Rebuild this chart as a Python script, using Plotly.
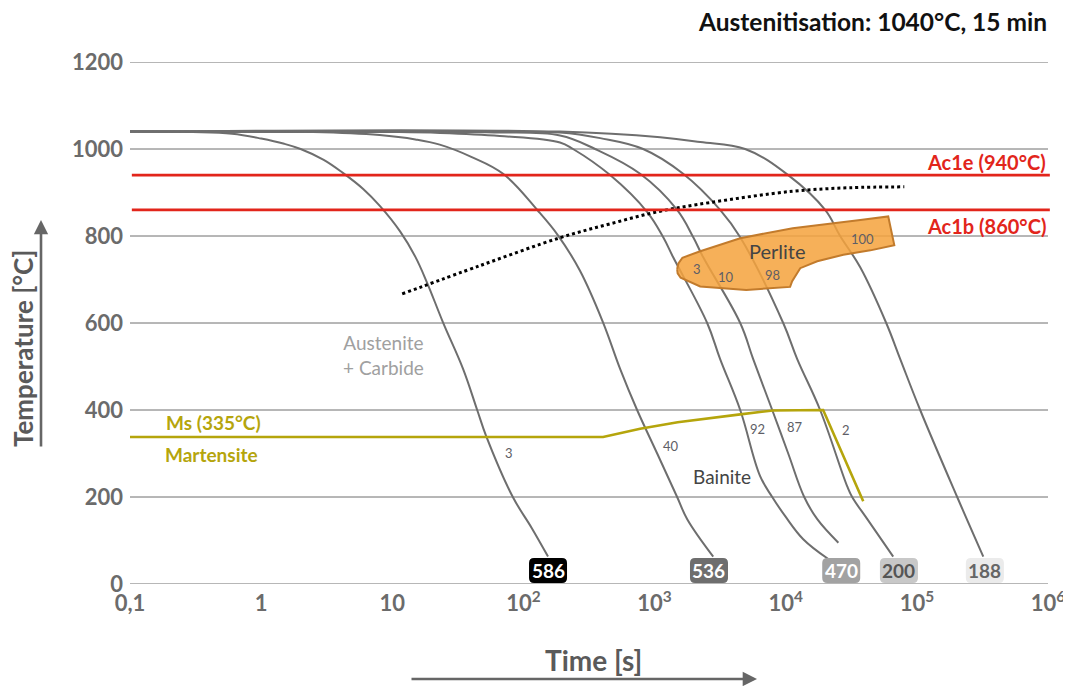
import numpy as np
import plotly.graph_objects as go

# ---------------- data ----------------
# cooling curves: time [s], temperature [°C]
curveA_t = [0.1, 0.3, 0.6, 1.0, 1.5, 2.0, 3.0, 4.2, 6.0, 8.1, 11.5, 15, 18.4, 24.4, 34.7, 44.4, 52, 83, 115, 154]
curveA_T = [1040, 1039, 1035, 1024, 1012, 1000, 975, 945, 908, 868, 810, 752, 693, 601, 494, 400, 340, 200, 130, 63]

curveB_t = [0.1, 2.5, 8, 15, 23, 40, 70, 129, 184, 270, 405, 547, 736, 1047, 1486, 1774, 2800]
curveB_T = [1040, 1039, 1032, 1022, 1010, 982, 943, 858, 801, 720, 601, 494, 400, 300, 200, 149, 63]

curveC_t = [0.1, 10, 23, 66, 190, 239, 458, 879, 1164, 1387, 2518, 3162, 4498, 6380, 7890, 9910, 13600, 21000]
curveC_T = [1040, 1039, 1037, 1030, 1015, 1000, 940, 855, 797, 751, 600, 517, 400, 248, 200, 156, 103, 58]

curveD_t = [0.1, 20, 60, 190, 352, 776, 1486, 1972, 2350, 4498, 5650, 7890, 10450, 13840, 17400, 25200]
curveD_T = [1040, 1039, 1038, 1031, 1000, 943, 860, 797, 751, 600, 517, 400, 300, 200, 149, 95]

curveE_t = [0.1, 50, 190, 385, 818, 1652, 3162, 4498, 9570, 12240, 18300, 29400, 32100, 41900, 66000]
curveE_T = [1040, 1039, 1038, 1025, 1000, 943, 860, 797, 600, 517, 400, 225, 200, 149, 63]

curveF_t = [0.1, 190, 1104, 2230, 4900, 10450, 20000, 26000, 37000, 58400, 74700, 106000, 203000, 321000]
curveF_T = [1040, 1040, 1027, 1016, 1000, 940, 860, 800, 728, 600, 517, 400, 200, 63]

# hardness labels at curve ends
hardness = ["586", "536", "470", "200", "188"]
hardness_t = [154, 2600, 26500, 73000, 330000]
hardness_T = [31, 31, 31, 31, 31]

# Ms line
ms_t = [0.1, 405, 776, 1500, 4500, 8000, 19300, 39000]
ms_T = [338, 338, 357, 372, 390, 399, 400, 190]

# dotted boundary (Austenite + Carbide)
dot_t = [11.9, 46.8, 190, 458, 1104, 2655, 11400, 31000, 80200]
dot_T = [667, 732, 796, 828, 857, 877, 903, 911, 913]

# Perlite region outline
perl_t = [1486, 1520, 1630, 2228, 4498, 11300, 37000, 60500, 67300, 44200, 27500, 17400,
          12900, 11200, 10800, 5000, 2228, 1580, 1500, 1486]
perl_T = [724, 737, 750, 765, 795, 818, 837, 845, 779, 767, 757, 742,
          726, 696, 683, 676, 684, 704, 714, 724]

Ac1e = 940
Ac1b = 860

y_ticks = [0, 200, 400, 600, 800, 1000, 1200]
x_tickvals = [0.1, 1, 10, 100, 1e3, 1e4, 1e5, 1e6]
x_ticktext = ["0,1", "1", "10", "10<sup>2</sup>", "10<sup>3</sup>", "10<sup>4</sup>",
              "10<sup>5</sup>", "10<sup>6</sup>"]

# ---------------- styles ----------------
GREY = "#6e6e6e"
RED = "#e2251b"
OLIVE = "#b5a50c"
FONT = "Lato"

fig = go.Figure()

# horizontal grid lines
for v in y_ticks:
    fig.add_shape(type="line", xref="paper", x0=0, x1=1, yref="y", y0=v, y1=v,
                  line=dict(color=GREY, width=1), layer="below")

for tt, TT in [(curveA_t, curveA_T), (curveB_t, curveB_T), (curveC_t, curveC_T),
               (curveD_t, curveD_T), (curveE_t, curveE_T), (curveF_t, curveF_T)]:
    fig.add_trace(go.Scatter(x=tt, y=TT, mode="lines",
                             line=dict(color=GREY, width=2, shape="spline", smoothing=1.1),
                             hoverinfo="skip", showlegend=False))

# Ms line
fig.add_trace(go.Scatter(x=ms_t, y=ms_T, mode="lines",
                         line=dict(color=OLIVE, width=2.6),
                         hoverinfo="skip", showlegend=False))

# dotted line
fig.add_trace(go.Scatter(x=dot_t, y=dot_T, mode="lines",
                         line=dict(color="black", width=3, dash="dot", shape="spline"),
                         hoverinfo="skip", showlegend=False))

# Perlite region
fig.add_trace(go.Scatter(x=perl_t, y=perl_T, mode="lines", fill="toself",
                         fillcolor="rgba(244,163,62,0.86)",
                         line=dict(color="#c27b2c", width=2),
                         hoverinfo="skip", showlegend=False))

# red Ac lines
for v in [Ac1e, Ac1b]:
    fig.add_shape(type="line", xref="paper", x0=0.002, x1=1.002, yref="y", y0=v, y1=v,
                  line=dict(color=RED, width=2.6), layer="above")

ann = []


def txt(x, y, s, size, color, weight="normal", xanchor="center", xref="x", yref="y", **kw):
    d = dict(x=x, y=y, text=s, xref=xref, yref=yref, showarrow=False, xanchor=xanchor,
             yanchor="middle", font=dict(family=FONT, size=size, color=color, weight=weight))
    d.update(kw)
    ann.append(d)


lg = np.log10
# Ac labels
txt(1.0, 971, "Ac1e (940°C)", 20, RED, "bold", xanchor="right", xref="paper")
txt(1.0, 824, "Ac1b (860°C)", 20, RED, "bold", xanchor="right", xref="paper")
# title
txt(1.0, 1.077, "Austenitisation: 1040°C, 15 min", 24.5, "#111111", "bold", xanchor="right",
    xref="paper", yref="paper", borderpad=0)
# Ms / Martensite
txt(lg(0.43), 371, "Ms (335°C)", 19, OLIVE, "bold")
txt(lg(0.415), 297, "Martensite", 19, OLIVE, "bold")
# region labels
txt(lg(8.5), 527, "Austenite<br>+ Carbide", 19, "#a0a0a0", "normal", align="center")
txt(lg(3280), 247, "Bainite", 19, "#444444")
txt(lg(8600), 766, "Perlite", 20, "#444444")
# small numbers
for s, t, T in [("3", 77.8, 302), ("40", 1340, 318), ("92", 6070, 357), ("87", 11800, 362),
                ("2", 29000, 355), ("3", 2115, 725), ("10", 3515, 706), ("98", 7890, 711),
                ("100", 38400, 794)]:
    txt(lg(t), T, s, 13, "#5e5e66")

# hardness boxes
box_bg = ["#000000", "#6e6e6e", "#a2a2a2", "#c8c8c8", "#ebebeb"]
box_fg = ["#ffffff", "#ffffff", "#ffffff", "#555555", "#666666"]
w, h, r = 19, 12.5, 5
path = (f"M {-w + r},{-h} L {w - r},{-h} Q {w},{-h} {w},{-h + r} L {w},{h - r} "
        f"Q {w},{h} {w - r},{h} L {-w + r},{h} Q {-w},{h} {-w},{h - r} L {-w},{-h + r} "
        f"Q {-w},{-h} {-w + r},{-h} Z")
for s, t, T, bg, fg in zip(hardness, hardness_t, hardness_T, box_bg, box_fg):
    fig.add_shape(type="path", xsizemode="pixel", ysizemode="pixel", xref="x", yref="y",
                  xanchor=t, yanchor=T, path=path, fillcolor=bg,
                  line=dict(width=0), layer="above")
    txt(lg(t), T, s, 19, fg, "bold")

# axis titles
txt(-0.1166, 0.452, "Temperature [°C]", 26, "#5a5a5a", "bold", xref="paper", yref="paper",
    textangle=-90)
txt(0.505, -0.145, "Time [s]", 28, "#5a5a5a", "bold", xref="paper", yref="paper")

# arrows
ann.append(dict(xref="paper", yref="paper", x=(41 - 130) / 918, y=(584 - 220) / 522,
                ax=0, ay=228, text="", showarrow=True,
                arrowhead=2, arrowsize=1.1, arrowwidth=2.6, arrowcolor="#666666"))
ann.append(dict(xref="paper", yref="paper", x=(757 - 130) / 918, y=(584 - 679) / 522,
                ax=-347, ay=0, text="", showarrow=True,
                arrowhead=2, arrowsize=1.1, arrowwidth=2.6, arrowcolor="#666666"))

# the page body adds an 8px offset, so the figure is 8px smaller on each leading edge
fig.update_layout(
    width=1063, height=678,
    margin=dict(l=122, r=23, t=54, b=102, autoexpand=False),
    plot_bgcolor="white", paper_bgcolor="white",
    annotations=ann,
    showlegend=False,
    xaxis=dict(type="log", range=[-1, 6], showgrid=False, zeroline=False, showline=False,
               tickvals=x_tickvals, ticktext=x_ticktext, ticks="", automargin=False,
               tickfont=dict(family=FONT, size=22, color="#6b6b6b", weight="bold"),
               ticklabelstandoff=4),
    yaxis=dict(range=[0, 1200], tickvals=y_ticks, showgrid=False,
               zeroline=False, showline=False, ticks="", automargin=False,
               tickfont=dict(family=FONT, size=22, color="#6b6b6b", weight="bold"),
               ticklabelstandoff=6),
)

fig.write_html("out.html")
